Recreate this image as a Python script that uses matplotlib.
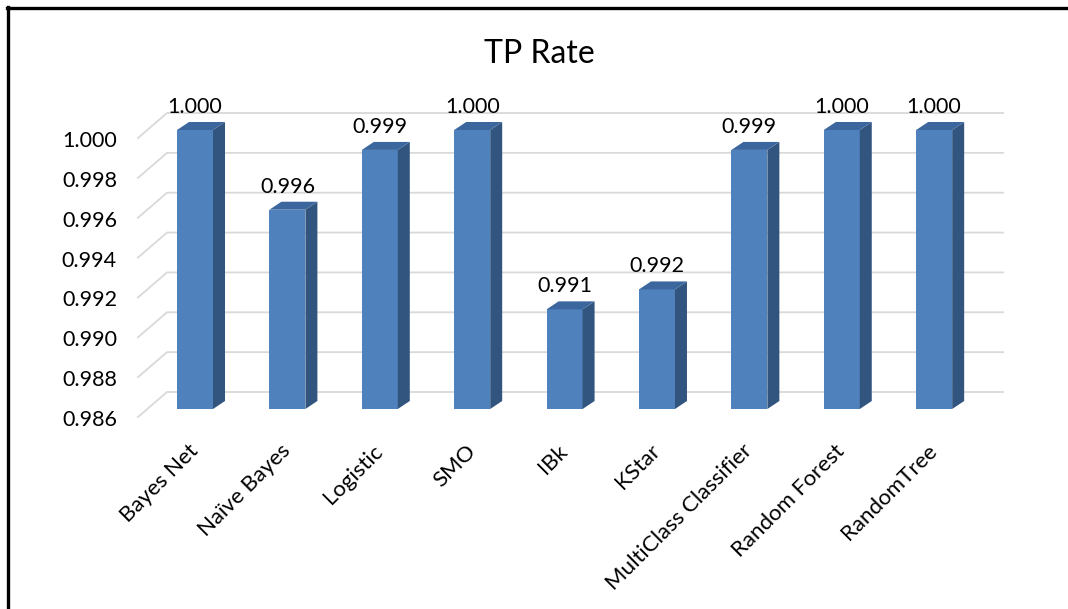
import matplotlib
matplotlib.use("Agg")
import matplotlib.pyplot as plt
from matplotlib.patches import Polygon
from matplotlib.lines import Line2D
import numpy as np

# TP rate per classifier
models = ["Bayes Net", "Naïve Bayes", "Logistic", "SMO", "IBk", "KStar",
          "MultiClass Classifier", "Random Forest", "RandomTree"]
tp_rate = [1.000, 0.996, 0.999, 1.000, 0.991, 0.992, 0.999, 1.000, 1.000]
y_ticks = [0.986, 0.988, 0.990, 0.992, 0.994, 0.996, 0.998, 1.000]
y_floor = 0.986
y_top = 1.000

plt.rcParams['font.family'] = ['Lato', 'DejaVu Sans']

W, H, DPI = 1068, 609, 100
fig = plt.figure(figsize=(W / DPI, H / DPI), dpi=DPI)

# plot area in pixels (front plane of the bars)
left, right, top, bottom = 138, 1003, 130, 409
ax = fig.add_axes([left / W, 1 - bottom / H, (right - left) / W, (bottom - top) / H])
x = np.arange(len(models))
x0, x1 = -0.617, 8.745
ax.set_xlim(x0, x1)
ax.set_ylim(y_floor, y_top)
for s in ax.spines.values():
    s.set_visible(False)
ax.set_yticks([])

# pixel -> data unit helpers for the fake 3d depth
px_x = (x1 - x0) / (right - left)
px_y = (y_top - y_floor) / (bottom - top)

grid_col = '#D9D9D9'
front_col = '#4F81BD'
side_col = '#32557F'
top_col = '#3C679E'

# gridlines: short diagonal on the side wall, then across the back wall
for v in y_ticks:
    ax.plot([x0, x0 + 29 * px_x, x1],
            [v - 8 * px_y, v + 17 * px_y, v + 17 * px_y],
            color=grid_col, lw=1.3, clip_on=False, zorder=1)
    ax.text(x0 - 21 * px_x, v - 17 * px_y, f"{v:.3f}", ha='right', va='baseline',
            fontsize=15.5, clip_on=False)

bw = 36 * px_x
dx = 12 * px_x
dy = 8 * px_y
vals = np.array(tp_rate)
ax.bar(x, vals - y_floor, bottom=y_floor, width=bw, color=front_col, zorder=3,
       clip_on=False)
for xi, v in zip(x, vals):
    r = xi + bw / 2
    l = xi - bw / 2
    side = Polygon([(r, y_floor), (r + dx, y_floor + dy), (r + dx, v + dy), (r, v)],
                   closed=True, facecolor=side_col, edgecolor='none', zorder=3,
                   clip_on=False)
    lid = Polygon([(l, v), (r, v), (r + dx, v + dy), (l + dx, v + dy)],
                  closed=True, facecolor=top_col, edgecolor='none', zorder=3,
                  clip_on=False)
    ax.add_patch(side)
    ax.add_patch(lid)
    ax.text(xi, v + 17 * px_y, f"{v:.3f}", ha='center', va='baseline',
            fontsize=15.5, clip_on=False)

ax.set_xticks(x, models)
ax.tick_params(axis='x', length=0, pad=28, labelsize=16)
plt.setp(ax.get_xticklabels(), rotation=45, ha='right', va='center',
         rotation_mode='anchor')

fig.text(539 / W, 1 - 63 / H, "TP Rate", ha='center', va='baseline', fontsize=23)

# outer frame (top and left edges only)
fig.add_artist(Line2D([7 / W, 1], [1 - 8 / H, 1 - 8 / H], color='black', lw=2.4,
                      transform=fig.transFigure))
fig.add_artist(Line2D([8 / W, 8 / W], [0, 1 - 7 / H], color='black', lw=2.4,
                      transform=fig.transFigure))

fig.savefig("out.png", dpi=DPI)
